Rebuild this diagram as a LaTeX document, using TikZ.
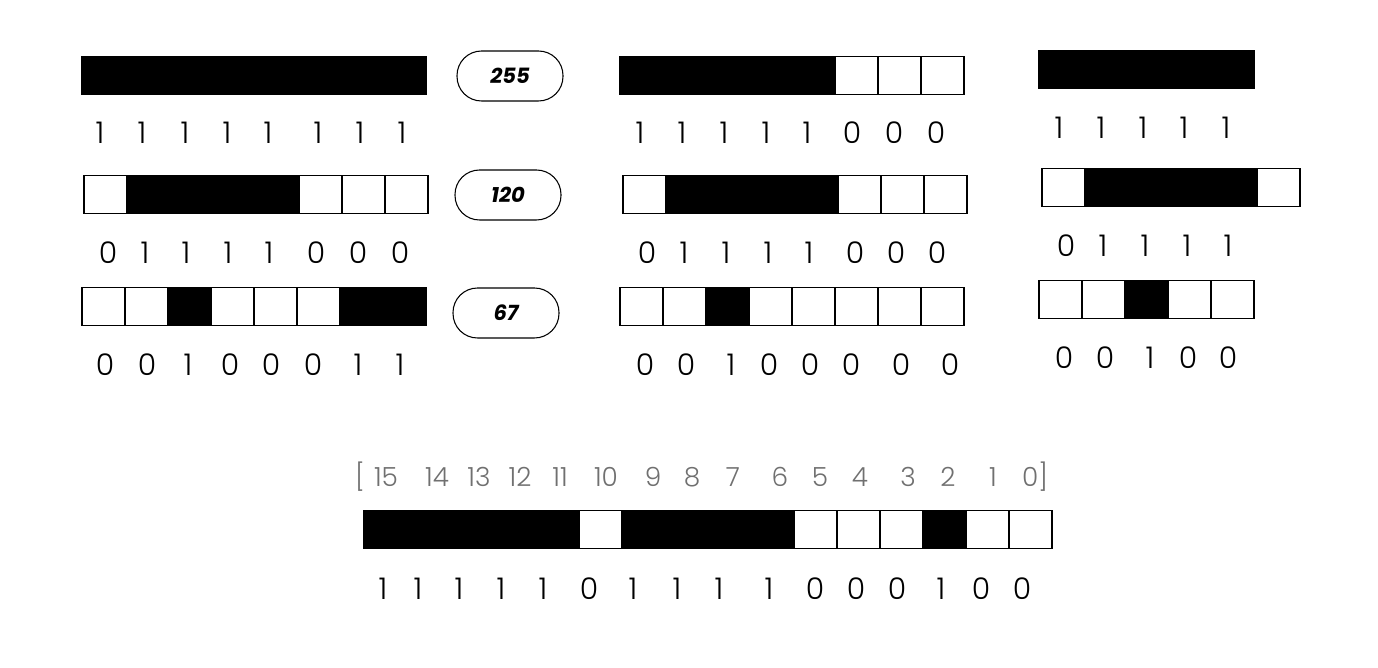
\documentclass[tikz,border=0pt]{standalone}
\usepackage{fontspec}
\setmainfont{Poppins}
\newfontfamily\lightfont{Poppins Light}
\usetikzlibrary{positioning}
\definecolor{idxgray}{RGB}{112,112,112}

% one row of bit cells: name, left x, top y, bits
\newcommand{\bitbar}[4]{%
  \foreach \b [count=\i] in {#4}
    \node[cell, bit\b] (#1-\i) at ({#2+43*\i-21.5}, {#3+18.5}) {};
}
% digits under a row: name, y, x/digit pairs
\newcommand{\bitdigits}[3]{%
  \foreach \x/\d [count=\i] in {#3}
    \node[digit] (#1-\i) at (\x, #2) {\d};
}

\begin{document}
\begin{tikzpicture}[
    x=0.02cm, y=-0.02cm,
    % define styles
    cell/.style={
        draw, line width=0.6pt,
        minimum width=0.86cm, minimum height=0.75cm,
        inner sep=0, outer sep=0
    },
    bit0/.style={fill=white},
    bit1/.style={fill=black},
    digit/.style={
        inner sep=0,
        font=\lightfont\fontsize{17}{20}\selectfont
    },
    index/.style={
        inner sep=0, text=idxgray,
        font=\lightfont\fontsize{15}{18}\selectfont
    },
    pill/.style={
        draw, line width=0.6pt, rounded corners=0.49cm,
        minimum width=2.12cm, minimum height=1cm,
        font=\bfseries\itshape\fontsize{12}{14}\selectfont
    }
]
\useasboundingbox (0,0) rectangle (1378,668);

% left group with the values
\bitbar{a1}{82}{57}{1,1,1,1,1,1,1,1}
\bitdigits{a1d}{133}{100/1,142/1,185/1,227/1,268/1,318/1,360/1,402/1}
\bitbar{a2}{84}{176}{0,1,1,1,1,0,0,0}
\bitdigits{a2d}{253}{108/0,145/1,186/1,228/1,269/1,316/0,358/0,400/0}
\bitbar{a3}{82}{288}{0,0,1,0,0,0,1,1}
\bitdigits{a3d}{365}{105/0,147/0,188/1,230/0,271/0,313/0,358/1,400/1}

\node[pill] (v255) at (510,76) {255};
\node[pill] (v120) at (508,195) {120};
\node[pill] (v67) at (506,313) {67};

% middle group
\bitbar{b1}{620}{57}{1,1,1,1,1,0,0,0}
\bitdigits{b1d}{133}{640/1,682/1,724/1,766/1,807/1,852/0,894/0,936/0}
\bitbar{b2}{623}{176}{0,1,1,1,1,0,0,0}
\bitdigits{b2d}{253}{647/0,684/1,726/1,768/1,809/1,855/0,896/0,937/0}
\bitbar{b3}{620}{288}{0,0,1,0,0,0,0,0}
\bitdigits{b3d}{365}{645/0,686/0,731/1,769/0,810/0,851/0,901/0,950/0}

% right group
\bitbar{c1}{1039}{51}{1,1,1,1,1}
\bitdigits{c1d}{128}{1059/1,1101/1,1143/1,1184/1,1226/1}
\bitbar{c2}{1042}{169}{0,1,1,1,1,0}
\bitdigits{c2d}{246}{1066/0,1103/1,1145/1,1187/1,1228/1}
\bitbar{c3}{1039}{281}{0,0,1,0,0}
\bitdigits{c3d}{358}{1064/0,1105/0,1150/1,1188/0,1228/0}

% 16 bit word with its indices
\node[index] (lb) at (360,477) {[};
\foreach \x/\n in {386/15,437/14,479/13,520/12,560/11,606/10,653/9,692/8,
                   733/7,780/6,820/5,860/4,908/3,948/2,993/1}
    \node[index] (i\n) at (\x,477) {\n};
\node[index] (i0) at (1035,477) {0]};
\bitbar{d}{364}{511}{1,1,1,1,1,0,1,1,1,1,0,0,0,1,0,0}
\bitdigits{dd}{589}{383/1,418/1,459/1,501/1,543/1,589/0,633/1,677/1,
                    719/1,769/1,815/0,856/0,897/0,941/1,981/0,1022/0}
\end{tikzpicture}
\end{document}
